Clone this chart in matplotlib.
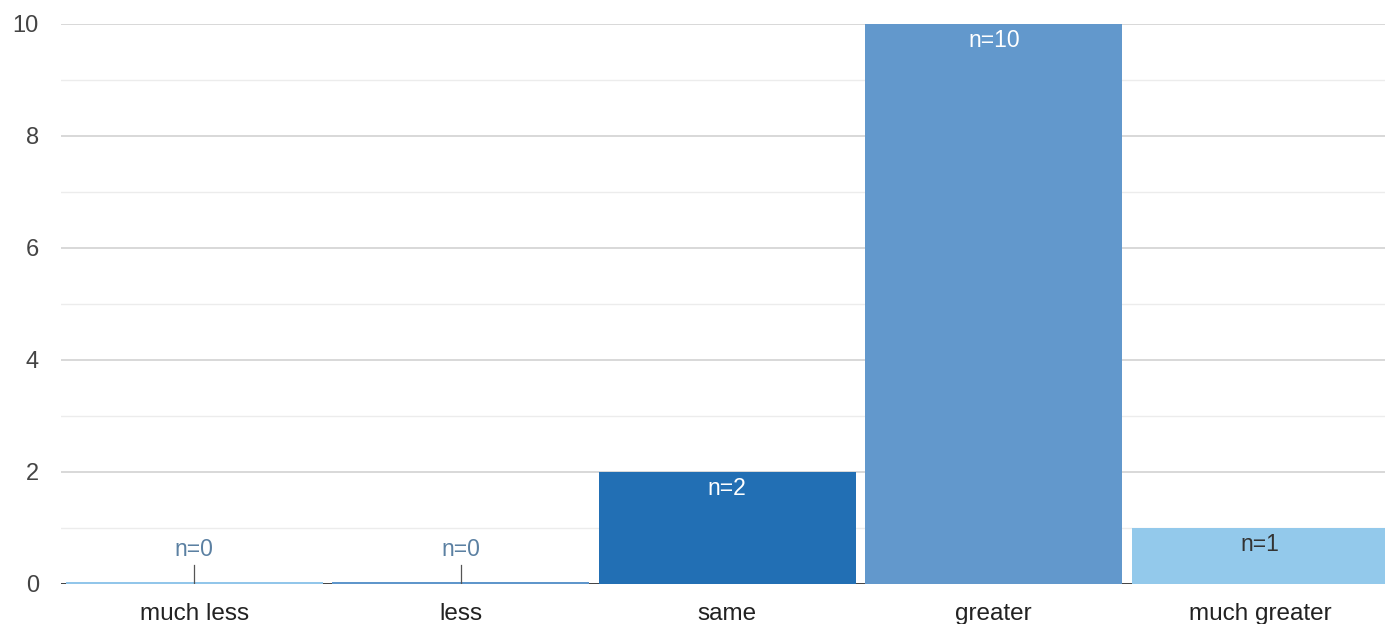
import matplotlib
matplotlib.use("Agg")
import matplotlib.pyplot as plt
import numpy as np

categories = ["much less", "less", "same", "greater", "much greater"]
values = [0, 0, 2, 10, 1]
labels = ["n=0", "n=0", "n=2", "n=10", "n=1"]
colors = ["#92c6ea", "#5f96cb", "#226fb4", "#6298cc", "#93c9eb"]
label_colors = ["#5b80a2", "#5b80a2", "white", "white", "#333333"]
yticks = [0, 2, 4, 6, 8, 10]

plt.rcParams['font.family'] = ['Liberation Sans', 'DejaVu Sans']

fig = plt.figure(figsize=(13.85, 6.24), dpi=100)
ax = fig.add_axes([61/1385, 1 - 584/624, (1393.5 - 61)/1385, (584 - 24)/624])
ax.set_xlim(-0.5, 4.5)
ax.set_ylim(0, 10)

x = np.arange(len(categories))
for v in range(1, 11):
    ax.axhline(v, color="#d6d6d6" if v % 2 == 0 else "#ececec", lw=1.3 if v % 2 == 0 else 1.0, zorder=0)

bw = 0.965
for i, (v, c) in enumerate(zip(values, colors)):
    if v > 0:
        ax.bar(x[i], v, width=bw, color=c, zorder=2)
    else:
        ax.bar(x[i], 0.04, width=bw, color=c, zorder=2)
        ax.plot([x[i], x[i]], [0, 0.34], color="#555555", lw=0.9, zorder=3)

ax.axhline(0, color="#333333", lw=1.3, zorder=1)

for i, (v, lab, lc) in enumerate(zip(values, labels, label_colors)):
    if v > 0:
        ax.text(x[i], v - 0.30, lab, ha="center", va="center", fontsize=16.5, color=lc, zorder=4)
    else:
        ax.text(x[i], 0.62, lab, ha="center", va="center", fontsize=16.5, color=lc, zorder=4)

ax.set_yticks(yticks)
ax.set_yticklabels([str(t) for t in yticks], fontsize=17, color="#444444")
ax.set_xticks(x)
ax.set_xticklabels(categories, fontsize=17.5, color="#222222")
ax.tick_params(axis="both", length=0)
ax.tick_params(axis="y", pad=16)
ax.tick_params(axis="x", pad=13.5)
for s in ax.spines.values():
    s.set_visible(False)

fig.savefig("out.png", dpi=100)
